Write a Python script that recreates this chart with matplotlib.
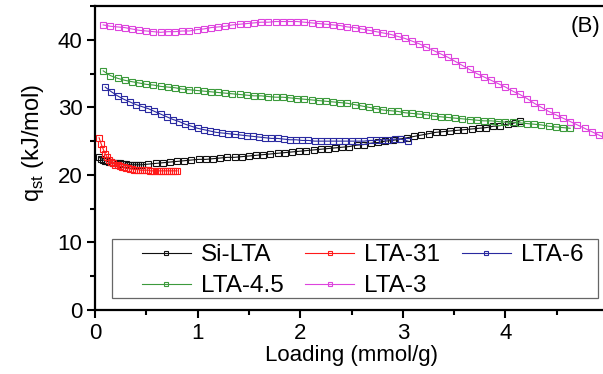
import matplotlib
matplotlib.use("Agg")
import matplotlib.pyplot as plt
from matplotlib.ticker import MultipleLocator
from matplotlib.patches import Rectangle

plt.rcParams['font.family'] = ['Liberation Sans', 'DejaVu Sans']

# Si-LTA (black)
si_x = [0.04, 0.06, 0.08, 0.10, 0.12, 0.14, 0.16, 0.18, 0.20, 0.22, 0.24, 0.26, 0.28, 0.30, 0.32, 0.34,
        0.36, 0.38, 0.40, 0.42, 0.44, 0.46,
        0.52, 0.59, 0.66, 0.73, 0.80, 0.87, 0.94, 1.01, 1.08, 1.15, 1.22, 1.29, 1.36, 1.43, 1.50, 1.57,
        1.64, 1.71, 1.78, 1.85, 1.92, 1.99, 2.06, 2.13, 2.20, 2.27, 2.34, 2.41, 2.48, 2.55, 2.62, 2.69,
        2.76, 2.83, 2.90, 2.97, 3.04, 3.11, 3.18, 3.25, 3.32, 3.39, 3.46, 3.53, 3.60, 3.67, 3.74, 3.81,
        3.88, 3.95, 4.02, 4.09, 4.14]
si_y = [22.6, 22.4, 22.2, 22.1, 22.0, 21.9, 21.9, 21.8, 21.8, 21.7, 21.7, 21.6, 21.6, 21.6, 21.5, 21.5,
        21.5, 21.5, 21.5, 21.5, 21.5, 21.5,
        21.6, 21.7, 21.8, 21.9, 22.0, 22.1, 22.2, 22.3, 22.3, 22.4, 22.5, 22.6, 22.6, 22.7, 22.8, 22.9,
        23.0, 23.1, 23.2, 23.3, 23.4, 23.5, 23.6, 23.7, 23.8, 23.9, 24.0, 24.1, 24.2, 24.4, 24.5, 24.7,
        24.8, 25.0, 25.1, 25.3, 25.5, 25.7, 25.9, 26.1, 26.3, 26.4, 26.5, 26.6, 26.7, 26.8, 26.9, 27.0,
        27.2, 27.3, 27.5, 27.7, 28.0]

# LTA-31 (red)
l31_x = [0.04, 0.06, 0.08, 0.10, 0.12, 0.14, 0.16, 0.18, 0.20, 0.22, 0.24, 0.26, 0.28, 0.30, 0.32, 0.34,
         0.36, 0.38, 0.40, 0.42, 0.44, 0.46, 0.48, 0.50, 0.52, 0.54, 0.56, 0.58, 0.60, 0.62, 0.64, 0.66,
         0.68, 0.70, 0.72, 0.74, 0.76, 0.78, 0.80]
l31_y = [25.5, 24.6, 23.8, 23.1, 22.6, 22.2, 21.9, 21.7, 21.5, 21.4, 21.3, 21.2, 21.1, 21.0, 21.0, 20.9,
         20.9, 20.8, 20.8, 20.8, 20.7, 20.7, 20.7, 20.7, 20.7, 20.6, 20.6, 20.6, 20.6, 20.6, 20.6, 20.6,
         20.6, 20.6, 20.6, 20.6, 20.6, 20.6, 20.6]

# LTA-6 (blue)
l6_x = [0.10, 0.16, 0.22, 0.28, 0.34, 0.40, 0.46, 0.52, 0.58, 0.64, 0.70, 0.76, 0.82, 0.88, 0.94, 1.00,
        1.06, 1.12, 1.18, 1.24, 1.30, 1.36, 1.42, 1.48, 1.54, 1.60, 1.66, 1.72, 1.78, 1.84, 1.90, 1.96,
        2.02, 2.08, 2.14, 2.20, 2.26, 2.32, 2.38, 2.44, 2.50, 2.56, 2.62, 2.68, 2.74, 2.80, 2.86, 2.92,
        2.98, 3.05]
l6_y = [33.0, 32.3, 31.7, 31.2, 30.8, 30.4, 30.1, 29.8, 29.4, 29.0, 28.6, 28.2, 27.9, 27.5, 27.2, 26.9,
        26.7, 26.5, 26.3, 26.2, 26.1, 26.0, 25.9, 25.8, 25.7, 25.6, 25.5, 25.4, 25.4, 25.3, 25.2, 25.2,
        25.1, 25.1, 25.0, 25.0, 25.0, 25.0, 25.0, 25.0, 25.0, 25.0, 25.0, 25.1, 25.1, 25.2, 25.2, 25.3,
        25.3, 25.0]

# LTA-4.5 (green)
l45_x = [0.08, 0.15, 0.22, 0.29, 0.36, 0.43, 0.50, 0.57, 0.64, 0.71, 0.78, 0.85, 0.92, 0.99, 1.06, 1.13,
         1.20, 1.27, 1.34, 1.41, 1.48, 1.55, 1.62, 1.69, 1.76, 1.83, 1.90, 1.97, 2.04, 2.11, 2.18, 2.25,
         2.32, 2.39, 2.46, 2.53, 2.60, 2.67, 2.74, 2.81, 2.88, 2.95, 3.02, 3.09, 3.16, 3.23, 3.30, 3.37,
         3.44, 3.51, 3.58, 3.65, 3.72, 3.79, 3.86, 3.93, 4.00, 4.07, 4.14, 4.21, 4.28, 4.35, 4.42, 4.49,
         4.56, 4.63]
l45_y = [35.4, 34.7, 34.3, 34.0, 33.8, 33.6, 33.4, 33.3, 33.1, 33.0, 32.9, 32.7, 32.6, 32.5, 32.4, 32.3,
         32.2, 32.1, 32.0, 31.9, 31.8, 31.7, 31.7, 31.6, 31.5, 31.5, 31.4, 31.3, 31.2, 31.1, 31.0, 30.9,
         30.8, 30.7, 30.6, 30.4, 30.2, 30.0, 29.8, 29.6, 29.5, 29.4, 29.2, 29.1, 29.0, 28.9, 28.7, 28.6,
         28.5, 28.4, 28.3, 28.2, 28.1, 28.0, 28.0, 27.9, 27.8, 27.8, 27.7, 27.6, 27.5, 27.4, 27.2, 27.1,
         27.0, 26.9]

# LTA-3 (magenta)
l3_x = [0.08, 0.15, 0.22, 0.29, 0.36, 0.43, 0.50, 0.57, 0.64, 0.71, 0.78, 0.85, 0.92, 0.99, 1.06, 1.13,
        1.20, 1.27, 1.34, 1.41, 1.48, 1.55, 1.62, 1.69, 1.76, 1.83, 1.90, 1.97, 2.04, 2.11, 2.18, 2.25,
        2.32, 2.39, 2.46, 2.53, 2.60, 2.67, 2.74, 2.81, 2.88, 2.95, 3.02, 3.09, 3.16, 3.23, 3.30, 3.37,
        3.44, 3.51, 3.58, 3.65, 3.72, 3.79, 3.86, 3.93, 4.00, 4.07, 4.14, 4.21, 4.28, 4.35, 4.42, 4.49,
        4.56, 4.63, 4.70, 4.77, 4.84, 4.91, 4.98]
l3_y = [42.2, 42.0, 41.9, 41.8, 41.6, 41.4, 41.3, 41.2, 41.1, 41.2, 41.2, 41.3, 41.3, 41.5, 41.6, 41.8,
        41.9, 42.0, 42.2, 42.3, 42.4, 42.5, 42.6, 42.6, 42.7, 42.7, 42.7, 42.7, 42.6, 42.5, 42.4, 42.3,
        42.2, 42.1, 41.9, 41.8, 41.6, 41.4, 41.2, 41.0, 40.8, 40.5, 40.2, 39.8, 39.4, 38.9, 38.4, 37.9,
        37.4, 36.8, 36.2, 35.6, 35.0, 34.5, 34.0, 33.5, 33.0, 32.4, 31.9, 31.3, 30.6, 30.0, 29.4, 28.9,
        28.4, 27.9, 27.4, 26.9, 26.4, 25.9, 25.4]

series = [
    (si_x, si_y, 'Si-LTA', '#111111'),
    (l31_x, l31_y, 'LTA-31', '#ff1a1a'),
    (l6_x, l6_y, 'LTA-6', '#2a2aa0'),
    (l45_x, l45_y, 'LTA-4.5', '#3c9a3c'),
    (l3_x, l3_y, 'LTA-3', '#dd44dd'),
]

fig = plt.figure(figsize=(6.03, 3.74), dpi=100)
ax = fig.add_axes([0.1575, 0.171, 0.851, 0.813])

handles = []
for x, y, name, c in series:
    h, = ax.plot(x, y, '-s', color=c, lw=0.8, ms=4.8, mfc='none', mec=c, mew=0.8, label=name)
    handles.append(h)

ax.set_xlim(0, 5)
ax.set_ylim(0, 45)
ax.xaxis.set_major_locator(MultipleLocator(1))
ax.xaxis.set_minor_locator(MultipleLocator(0.5))
ax.yaxis.set_major_locator(MultipleLocator(10))
ax.yaxis.set_minor_locator(MultipleLocator(5))
ax.tick_params(which='major', direction='out', length=6, width=1.5, labelsize=16, pad=3)
ax.tick_params(which='minor', direction='out', length=3.5, width=1.5)
for s in ax.spines.values():
    s.set_linewidth(1.6)

ax.set_xlabel('Loading (mmol/g)', fontsize=16, labelpad=1)
ax.set_ylabel('q$_{\\mathregular{st}}$ (kJ/mol)', fontsize=17)
ax.yaxis.set_label_coords(-0.095, 0.55)

ax.text(4.63, 41.9, '(B)', fontsize=16, va='center', ha='left')

# legend laid out row by row like the original (matplotlib fills columns)
order = [0, 3, 1, 4, 2]
leg = ax.legend([handles[i] for i in order], [series[i][2] for i in order],
                ncol=3, loc='upper left', bbox_to_anchor=(0.0916, 0.216),
                fontsize=17.5, frameon=False, handlelength=2.0, handletextpad=0.42,
                columnspacing=0.9, borderaxespad=0, borderpad=0, labelspacing=0.37,
                markerscale=0.75)
ax.add_patch(Rectangle((0.033, 0.039), 0.947, 0.194, transform=ax.transAxes,
                       fill=False, edgecolor='#666666', lw=0.9, zorder=1))

fig.savefig('out.png', dpi=100)
